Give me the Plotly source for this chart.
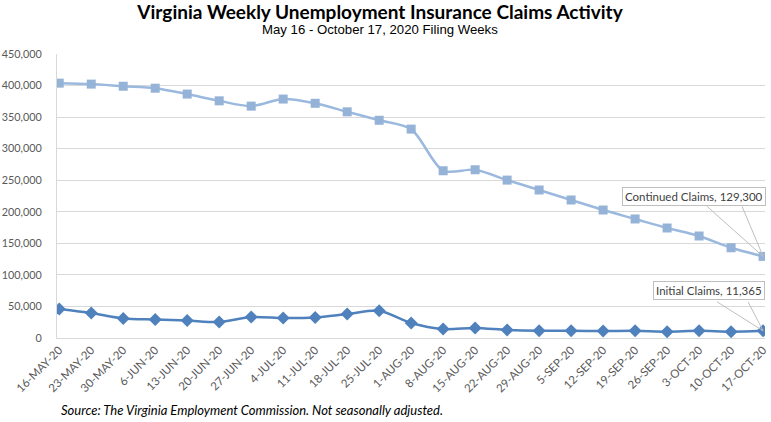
import plotly.graph_objects as go

weeks = ["16-MAY-20", "23-MAY-20", "30-MAY-20", "6-JUN-20", "13-JUN-20", "20-JUN-20",
         "27-JUN-20", "4-JUL-20", "11-JUL-20", "18-JUL-20", "25-JUL-20", "1-AUG-20",
         "8-AUG-20", "15-AUG-20", "22-AUG-20", "29-AUG-20", "5-SEP-20", "12-SEP-20",
         "19-SEP-20", "26-SEP-20", "3-OCT-20", "10-OCT-20", "17-OCT-20"]

continued_claims = [403800, 402300, 398900, 395800, 386500, 375800, 367400, 378600,
                    371900, 358400, 345000, 331000, 265000, 266600, 250200, 234500,
                    218700, 202800, 188600, 174300, 161600, 143000, 129300]

initial_claims = [45900, 39500, 31000, 29400, 27800, 25300, 33200, 31600, 32600,
                  38000, 43200, 23700, 14200, 15800, 12700, 11500, 11500, 11000,
                  11500, 10000, 11500, 10000, 11365]

y_ticks = list(range(0, 450001, 50000))

x_idx = list(range(len(weeks)))

LABEL_FONT = "Lato, 'Open Sans', sans-serif"

fig = go.Figure()

fig.add_trace(go.Scatter(
    x=x_idx, y=continued_claims, name="Continued Claims",
    mode="lines+markers",
    line=dict(color="#9BB9DE", width=2.5, shape="spline", smoothing=0.8),
    marker=dict(symbol="square", size=9, color="#95B3D7"),
    hoverinfo="skip",
))

fig.add_trace(go.Scatter(
    x=x_idx, y=initial_claims, name="Initial Claims",
    mode="lines+markers",
    line=dict(color="#4F81BD", width=2.5, shape="spline", smoothing=0.8),
    marker=dict(symbol="diamond", size=10, color="#4F81BD"),
    hoverinfo="skip",
))

last = len(weeks) - 1

# callout boxes
fig.add_annotation(
    x=last, y=continued_claims[-1], xref="x", yref="y",
    text=f"Continued Claims, {continued_claims[-1]:,}",
    showarrow=False, xanchor="center", yanchor="middle",
    xshift=-69, yshift=60,
    font=dict(family=LABEL_FONT, size=11.5, color="#404040"),
    bgcolor="white", bordercolor="#BFBFBF", borderwidth=1, borderpad=2,
)
fig.add_annotation(
    x=last, y=initial_claims[-1], xref="x", yref="y",
    text=f"Initial Claims, {initial_claims[-1]:,}",
    showarrow=False, xanchor="center", yanchor="middle",
    xshift=-54, yshift=40,
    font=dict(family=LABEL_FONT, size=11.5, color="#404040"),
    bgcolor="white", bordercolor="#BFBFBF", borderwidth=1, borderpad=2,
)

# callout leader lines (pixel offsets anchored at the data point)
fig.add_shape(type="path", xref="x", yref="y",
              xsizemode="pixel", ysizemode="pixel",
              xanchor=last, yanchor=continued_claims[-1],
              path="M -56,50 L 0,0 L -21,50",
              line=dict(color="#BFBFBF", width=1))
fig.add_shape(type="path", xref="x", yref="y",
              xsizemode="pixel", ysizemode="pixel",
              xanchor=last, yanchor=initial_claims[-1],
              path="M -46,29 L 0,0 L -15,29",
              line=dict(color="#BFBFBF", width=1))

fig.add_annotation(
    text="May 16 - October 17, 2020 Filing Weeks",
    xref="paper", yref="paper", x=(380 - 57) / 708, y=(338.3 - 30) / 284,
    xanchor="center", yanchor="middle", showarrow=False,
    font=dict(family="Liberation Sans, Arial, sans-serif", size=13.2, color="black"),
)
fig.add_annotation(
    text="<i>Source: The Virginia Employment Commission. Not seasonally adjusted.</i>",
    xref="paper", yref="paper", x=(59 - 57) / 708, y=(338.3 - 410) / 284,
    xanchor="left", yanchor="middle", showarrow=False,
    font=dict(family=LABEL_FONT, size=13, color="black"),
)

fig.update_layout(
    width=771, height=422,
    margin=dict(l=57, r=6, t=54, b=84, autoexpand=False),
    paper_bgcolor="white", plot_bgcolor="white",
    showlegend=False,
    title=dict(
        text="<b>Virginia Weekly Unemployment Insurance Claims Activity</b>",
        x=380 / 771, xanchor="center", y=1 - 12 / 422, yanchor="middle",
        font=dict(family=LABEL_FONT, size=19, color="black"),
    ),
)

fig.update_xaxes(
    tickmode="array", tickvals=x_idx, ticktext=weeks,
    range=[-0.07, last + 0.06],
    tickangle=-45, ticks="",
    showgrid=False, showline=True, linecolor="#D9D9D9", linewidth=1,
    zeroline=False,
    tickfont=dict(family=LABEL_FONT, size=11.5, color="#595959"),
)
fig.update_yaxes(
    range=[0, 450000], tickmode="array", tickvals=y_ticks,
    ticktext=[f"{v:,}" for v in y_ticks],
    showgrid=True, gridcolor="#D9D9D9", gridwidth=1,
    showline=True, linecolor="#D9D9D9", linewidth=1,
    zeroline=False, ticks="", ticklabelstandoff=12,
    tickfont=dict(family=LABEL_FONT, size=10.8, color="#595959"),
)

fig.write_html("out.html", config={"displayModeBar": False},
               post_script="document.body.style.margin='0';document.body.style.padding='0';")
